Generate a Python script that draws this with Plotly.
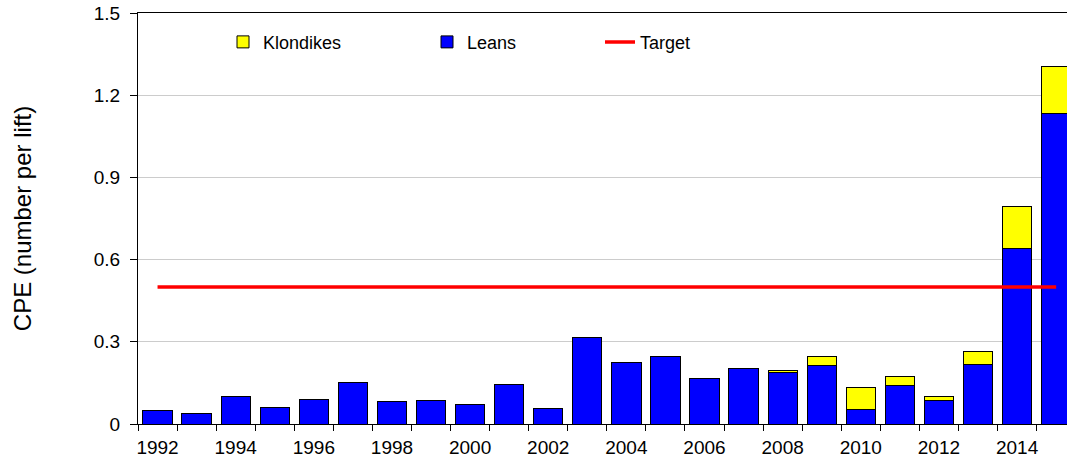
"""
CPE of lean and klondike lake trout by year, stacked bars with target line.
"""
import plotly.graph_objects as go

years = list(range(1992, 2016))
leans = [0.048, 0.039, 0.102, 0.062, 0.090, 0.151, 0.083, 0.086, 0.073, 0.146,
         0.057, 0.314, 0.225, 0.248, 0.165, 0.202, 0.189, 0.215, 0.052, 0.141,
         0.086, 0.218, 0.640, 1.132]
klondikes = [0, 0, 0, 0, 0, 0, 0, 0, 0, 0,
             0, 0, 0, 0, 0, 0, 0.007, 0.030, 0.082, 0.033,
             0.015, 0.045, 0.155, 0.173]
target_years = [1992, 2015]
target_values = [0.5, 0.5]
year_labels = list(range(1992, 2016, 2))
y_ticks = [0, 0.3, 0.6, 0.9, 1.2, 1.5]

FONT = "Liberation Sans, Arial, sans-serif"
PLOT_W = 929  # plot area width in px; the 2015 bar runs off the right edge

fig = go.Figure()

fig.add_trace(go.Bar(
    x=years, y=leans, name="Leans", width=0.75,
    marker=dict(color="#0000ff", line=dict(color="black", width=1)),
    legend="legend2", showlegend=True,
))
fig.add_trace(go.Bar(
    x=years, y=klondikes, name="Klondikes", width=0.75,
    marker=dict(color="#ffff00", line=dict(color="black", width=1)),
    legend="legend", showlegend=True,
))
fig.add_trace(go.Scatter(
    x=target_years, y=target_values, mode="lines", name="Target",
    line=dict(color="#ff0000", width=3.5),
    legend="legend3", showlegend=True,
))

legend_style = dict(
    orientation="h", xanchor="left", yanchor="middle", y=0.929,
    font=dict(family=FONT, size=18, color="black"),
    bgcolor="rgba(0,0,0,0)",
)

fig.update_layout(
    barmode="stack",
    width=1067,
    height=458,
    showlegend=True,
    margin=dict(l=138, r=0, t=13, b=34),
    plot_bgcolor="white",
    paper_bgcolor="white",
    font=dict(family=FONT, size=18, color="black"),
    legend=dict(x=(223 - 138) / PLOT_W, **legend_style),
    legend2=dict(x=(427 - 138) / PLOT_W, **legend_style),
    legend3=dict(x=(600 - 138) / PLOT_W, **legend_style),
    xaxis=dict(
        range=[1991.5, 1991.5 + PLOT_W / 39.07],
        tickmode="array", tickvals=year_labels,
        ticks="outside", ticklen=0, ticklabelstandoff=6,
        showline=True, linecolor="black", linewidth=1, mirror=True,
        showgrid=False, zeroline=False,
        tickfont=dict(size=19),
        minor=dict(ticks="outside", tickmode="linear", tick0=1991.5, dtick=1,
                   ticklen=6, tickcolor="black", showgrid=False),
    ),
    yaxis=dict(
        range=[0, 1.5],
        tickmode="array", tickvals=y_ticks,
        ticks="outside", ticklen=7, tickcolor="black", ticklabelstandoff=6,
        showline=True, linecolor="black", linewidth=1,
        showgrid=True, gridcolor="#cccccc", gridwidth=1,
        zeroline=False,
        tickfont=dict(size=19),
        title=dict(text="CPE (number per lift)", font=dict(size=24), standoff=55),
    ),
)

# drop the default 8px body margin so the figure sits at the page corner
fig.write_html("out.html",
               config={"displayModeBar": False},
               post_script="document.body.style.margin='0';"
                           "document.body.style.overflow='hidden';")
